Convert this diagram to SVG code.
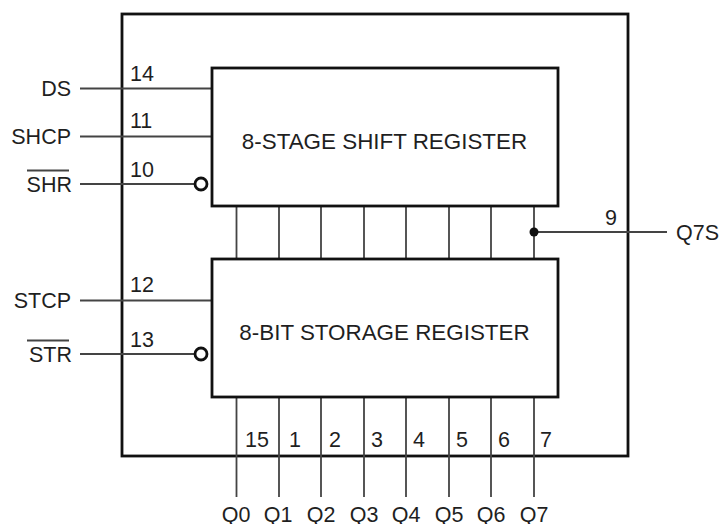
<svg xmlns="http://www.w3.org/2000/svg" width="722" height="524" viewBox="0 0 722 524">
<style>
text{font-family:"Liberation Sans",Arial,sans-serif;font-size:21.5px;fill:#1f1f1f}
.t{font-size:22.4px}
.b{fill:none;stroke:#111;stroke-width:2.8}
.l{fill:none;stroke:#444;stroke-width:1.8}
.m{text-anchor:middle}
.e{text-anchor:end}
.c{fill:#fff;stroke:#111;stroke-width:2.8}
</style>
<rect width="722" height="524" fill="#fff"/>
<g id="package"><rect class="b" x="122" y="14" width="506" height="442"/></g>
<g id="connectors">
<path class="l" d="M80 88.500H212M80 136.500H212M80 184H195M80 300.500H212M80 354H195"/>
<path class="l" d="M236.500 206V258M279 206V258M321 206V258M364 206V258M406 206V258M449 206V258M491 206V258M534 206V258M534 232H667"/>
<path class="l" d="M236.500 397V497M279 397V497M321 397V497M364 397V497M406 397V497M449 397V497M491 397V497M534 397V497"/>
<circle cx="534" cy="232" r="4.500" fill="#111"/>
</g>
<g id="shift-register"><rect class="b" x="212" y="68" width="346" height="138"/><text class="m t" x="384.500" y="149">8-STAGE SHIFT REGISTER</text><circle class="c" cx="201" cy="184" r="6"/></g>
<g id="storage-register"><rect class="b" x="212" y="259" width="346" height="138"/><text class="m t" x="384.500" y="340">8-BIT STORAGE REGISTER</text><circle class="c" cx="201" cy="354" r="6"/></g>
<g id="inputs">
<text class="e" x="71" y="96">DS</text><text class="e" x="71" y="144">SHCP</text><text class="e" x="72" y="192">SHR</text><path class="l" d="M27 170.500H69"/>
<text class="e" x="71" y="308">STCP</text><text class="e" x="72" y="362">STR</text><path class="l" d="M27 340.500H69"/>
<text x="130" y="81">14</text><text x="130" y="128">11</text><text x="130" y="177">10</text><text x="130" y="292">12</text><text x="130" y="347">13</text>
</g>
<g id="q7s"><text x="605" y="225">9</text><text x="676" y="240">Q7S</text></g>
<g id="pins">
<text x="245" y="447">15</text><text x="289" y="447">1</text><text x="329" y="447">2</text><text x="371" y="447">3</text><text x="413" y="447">4</text><text x="456" y="447">5</text><text x="498" y="447">6</text><text x="540" y="447">7</text>
</g>
<g id="outputs">
<text class="m" x="236" y="522">Q0</text><text class="m" x="278" y="522">Q1</text><text class="m" x="321" y="522">Q2</text><text class="m" x="364" y="522">Q3</text><text class="m" x="406" y="522">Q4</text><text class="m" x="449" y="522">Q5</text><text class="m" x="491" y="522">Q6</text><text class="m" x="534" y="522">Q7</text>
</g>
</svg>
